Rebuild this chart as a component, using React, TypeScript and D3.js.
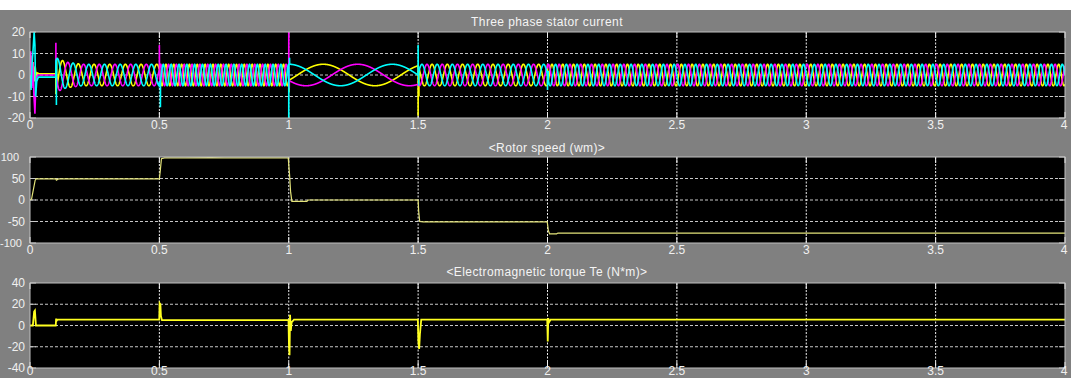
import React from 'react';
import * as d3 from 'd3';

const W = 1071;
const H = 378;

// ---- axis ticks ----
const xTicks = [0, 0.5, 1, 1.5, 2, 2.5, 3, 3.5, 4];
const currentTicks = [-20, -10, 0, 10, 20];
const speedTicks = [-100, -50, 0, 50, 100];
const torqueTicks = [-40, -20, 0, 20, 40];

// ---- panel titles ----
const titles = ['Three phase stator current', '<Rotor speed (wm)>', '<Electromagnetic torque Te (N*m)>'];

// ---- stator current: steady sinusoidal segments ----
const segStart = [0.1, 0.5, 1.0, 1.5, 2.0];
const segEnd = [0.5, 1.0, 1.5, 2.0, 4.0];
const segFreq = [16.5, 33, 2.5, -17, -24]; // Hz, electrical (sign = phase order)
const envT = [0.1, 0.14, 0.2, 4.0];
const envA = [8, 6, 5, 5];
const phaseNames = ['yellow', 'magenta', 'cyan'];
const phaseOffsetDeg = [-120, -240, 0]; // relative to cyan peak at t=1.0
const phaseColors = ['#ffff00', '#ff00ff', '#00ffff'];

// start-up (0 .. 0.1 s) samples per phase
const earlyYellowT = [0, 0.004, 0.008, 0.012, 0.016, 0.02, 0.024, 0.028, 0.035, 0.0995];
const earlyYellowV = [0, 9, -5, 6, -3, 4, -2, 1, 0.6, 0.6];
const earlyMagentaT = [0, 0.003, 0.007, 0.011, 0.015, 0.019, 0.022, 0.025, 0.03, 0.0995];
const earlyMagentaV = [0, 11, -6, 6, -9, -18, -6, -1, 0, 0];
const earlyCyanT = [0, 0.004, 0.008, 0.012, 0.016, 0.019, 0.022, 0.026, 0.032, 0.0995];
const earlyCyanV = [0, -7, 5, 12, 20, 14, -10, -3, -1, -1];

// switching spikes per phase
const spikeYellowT = [0.1, 0.103, 1.001, 1.5, 1.503, 2.0];
const spikeYellowV = [-9, 8, -8, -19, -10, 5];
const spikeMagentaT = [0.1, 0.5, 0.502, 1.0, 1.002, 1.5, 2.0];
const spikeMagentaV = [15, 14, -3, 20, -6, -4, 3];
const spikeCyanT = [0.102, 0.5, 0.504, 1.0, 1.003, 1.5, 1.502, 2.0, 2.003];
const spikeCyanV = [-14, -3, -15, -20, 8, 14, -5, -7, 2];

// ---- rotor speed ----
const speedT = [0, 0.006, 0.02, 0.024, 0.1, 0.102, 0.11, 0.5, 0.503, 0.508, 0.52, 0.6, 0.7, 0.75, 0.998, 1.003, 1.007, 1.012, 1.07, 1.075, 1.5, 1.502, 1.506, 1.52, 1.999, 2.003, 2.008, 2.035, 2.04, 4.0];
const speedV = [0, 2, 46, 49, 49, 46, 49, 49, 65, 96, 98, 98, 98.5, 98, 98, 60, 20, -3, -3, 0, 0, -25, -50, -51, -51, -70, -79, -79, -77, -77];

// ---- electromagnetic torque ----
const torqueT = [0, 0.011, 0.016, 0.019, 0.023, 0.03, 0.0995, 0.101, 0.103, 0.106, 0.4995, 0.501, 0.504, 0.506, 0.51, 0.999, 1.001, 1.003, 1.005, 1.008, 1.011, 1.02, 1.499, 1.501, 1.504, 1.507, 1.512, 1.999, 2.001, 2.003, 2.006, 2.012, 4.0];
const torqueV = [0, 0, 13, 14, 0, 0, 0, 6.5, 4.5, 5.5, 5.5, 21, 20, 9, 5, 5, -20, -28, 10, -5, 3, 5.5, 5.5, -15, -22, -8, 5.5, 5.5, -15, 7, 3, 5.5, 5.5];

// ---- layout ----
const plotLeft = 30;
const plotRight = 1065;
const panelTop = [32, 157, 283];
const panelBottom = [118, 243, 368];
const titleY = [22, 148, 272];
const xLabelY = [125, 250, 371];

function buildPhase(k: number, earlyT: number[], earlyV: number[], spT: number[], spV: number[]) {
  const pts: [number, number][] = earlyT.map((t, i) => [t, earlyV[i]]);
  const dt = 0.0005;
  let theta = 0;
  let thetaAt1 = 0;
  const raw: [number, number][] = [];
  for (let s = 0; s < segStart.length; s++) {
    for (let t = segStart[s]; t < segEnd[s] - 1e-9; t += dt) {
      if (Math.abs(t - 1.0) < dt / 2) thetaAt1 = theta;
      raw.push([t, theta]);
      theta += 2 * Math.PI * segFreq[s] * dt;
    }
  }
  raw.push([4.0, theta]);
  const env = d3.scaleLinear().domain(envT).range(envA).clamp(true);
  const off = (phaseOffsetDeg[k] * Math.PI) / 180;
  const samples: [number, number][] = raw.map(([t, th]) => [t, env(t) * Math.cos(th - thetaAt1 + off)]);
  const all = pts.concat(samples, spT.map((t, i) => [t + 0.00001, spV[i]] as [number, number]));
  all.sort((a, b) => a[0] - b[0]);
  return all;
}

export default function App() {
  const x = d3.scaleLinear().domain([0, 4]).range([plotLeft, plotRight]);
  const domains: [number, number][] = [[-20, 20], [-100, 100], [-40, 40]];
  const yTicksAll = [currentTicks, speedTicks, torqueTicks];
  const ys = domains.map((d, i) => d3.scaleLinear().domain(d).range([panelBottom[i], panelTop[i]]));

  const phases = [
    buildPhase(0, earlyYellowT, earlyYellowV, spikeYellowT, spikeYellowV),
    buildPhase(1, earlyMagentaT, earlyMagentaV, spikeMagentaT, spikeMagentaV),
    buildPhase(2, earlyCyanT, earlyCyanV, spikeCyanT, spikeCyanV),
  ];
  const speedPts: [number, number][] = speedT.map((t, i) => [t, speedV[i]]);
  const torquePts: [number, number][] = torqueT.map((t, i) => [t, torqueV[i]]);

  const line = (yS: d3.ScaleLinear<number, number>) =>
    d3.line<[number, number]>().x((d) => x(d[0])).y((d) => yS(d[1]));

  const font = '"Liberation Sans", Arial, Helvetica, sans-serif';
  const tickLen = 6;

  return (
    <svg width={W} height={H} style={{ position: 'fixed', left: 0, top: 0, display: 'block' }}>
      <rect x={0} y={0} width={W} height={H} fill="#ffffff" />
      <rect x={0} y={10} width={W} height={H - 10} fill="#808080" />
      <defs>
        {panelTop.map((t, i) => (
          <clipPath id={`clip${i}`} key={i}>
            <rect x={plotLeft} y={t} width={plotRight - plotLeft} height={panelBottom[i] - t} />
          </clipPath>
        ))}
      </defs>
      {panelTop.map((top, i) => {
        const bottom = panelBottom[i];
        const yS = ys[i];
        return (
          <g key={i}>
            <rect x={plotLeft} y={top} width={plotRight - plotLeft} height={bottom - top} fill="#000000" />
            {yTicksAll[i].slice(1, -1).map((v) => (
              <line key={`h${v}`} x1={plotLeft} x2={plotRight} y1={yS(v)} y2={yS(v)} stroke="#c8c8c8" strokeWidth={1} strokeDasharray="3,2" />
            ))}
            {xTicks.slice(1, -1).map((v) => (
              <line key={`v${v}`} x1={x(v)} x2={x(v)} y1={top} y2={bottom} stroke="#f0f0f0" strokeWidth={1} strokeDasharray="2,1.5" />
            ))}
            {yTicksAll[i].map((v) => (
              <g key={`yt${v}`}>
                <line x1={plotLeft} x2={plotLeft + tickLen} y1={yS(v)} y2={yS(v)} stroke="#c8c8c8" />
                <line x1={plotRight - tickLen} x2={plotRight} y1={yS(v)} y2={yS(v)} stroke="#c8c8c8" />
              </g>
            ))}
            {xTicks.map((v) => (
              <g key={`xt${v}`}>
                <line x1={x(v)} x2={x(v)} y1={bottom} y2={bottom - tickLen} stroke="#f0f0f0" />
                <line x1={x(v)} x2={x(v)} y1={top} y2={top + tickLen} stroke="#f0f0f0" />
              </g>
            ))}
            <g clipPath={`url(#clip${i})`}>
              {i === 0 &&
                phases.map((p, k) => (
                  <path key={phaseNames[k]} d={line(yS)(p) || ''} fill="none" stroke={phaseColors[k]} strokeWidth={1.6} />
                ))}
              {i === 1 && <path d={line(yS)(speedPts) || ''} fill="none" stroke="#e4e47a" strokeWidth={1.2} />}
              {i === 2 && <path d={line(yS)(torquePts) || ''} fill="none" stroke="#ffff20" strokeWidth={1.8} />}
            </g>
            <rect x={plotLeft} y={top} width={plotRight - plotLeft} height={bottom - top} fill="none" stroke="#c0c0c0" strokeWidth={1} />
            {yTicksAll[i].map((v) => {
              const big = Math.abs(v) >= 100;
              return (
                <text key={`yl${v}`} x={big ? (v < 0 ? 22 : 19) : 25} y={yS(v)} dy="0.35em" textAnchor="end" fontFamily={font} fontSize={big ? 11 : 12} fill="#f0f0f0">
                  {String(v)}
                </text>
              );
            })}
            {xTicks.map((v) => (
              <text key={`xl${v}`} x={v === 4 ? x(v) - 1 : x(v)} y={xLabelY[i]} dy="0.35em" textAnchor="middle" fontFamily={font} fontSize={12} fill="#f0f0f0">
                {String(v)}
              </text>
            ))}
            <text x={547} y={titleY[i]} dy="0.35em" textAnchor="middle" fontFamily={font} fontSize={12} letterSpacing={0.4} fill="#f4f4f4">
              {titles[i]}
            </text>
          </g>
        );
      })}
    </svg>
  );
}
